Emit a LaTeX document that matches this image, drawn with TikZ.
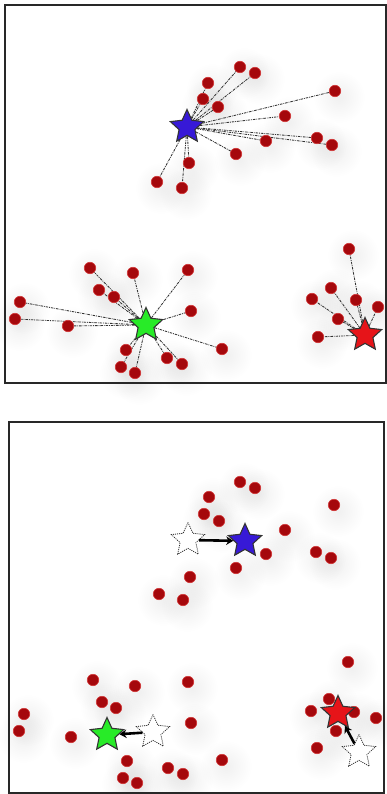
\documentclass[tikz,border=0pt]{standalone}
\usetikzlibrary{shapes.geometric,arrows.meta,fadings}
\pgfdeclarelayer{bg}
\pgfdeclarelayer{haze}
\pgfsetlayers{haze,bg,main}
\definecolor{dotred}{RGB}{165,8,12}
\definecolor{dotrim}{RGB}{210,55,55}
\definecolor{sblue}{RGB}{55,25,215}
\definecolor{sgreen}{RGB}{40,235,40}
\definecolor{sred}{RGB}{230,20,25}
\definecolor{framec}{RGB}{40,40,40}
\tikzfading[name=softglow, inner color=transparent!0, outer color=transparent!100]
\tikzset{
  dotnode/.style={circle,fill=dotred,draw=dotrim,line width=0.6pt,minimum size=11.5pt,inner sep=0pt},
  starnode/.style={star,star points=5,star point ratio=2.1,minimum size=35pt,inner sep=0pt,draw=black!80,line width=1.1pt},
  oldstar/.style={starnode,fill=white,draw=black!80,densely dotted,line width=0.8pt},
  link/.style={draw=black!80,line width=0.85pt,dash pattern=on 2.5pt off 1pt on 0.8pt off 1pt},
  move/.style={draw=black,line width=2.6pt,-{Stealth[length=7pt,width=8.5pt]}},
  panel/.style={draw=framec,line width=2pt},
  hazec/.style={fill=black,opacity=0.06,path fading=softglow}
}
\begin{document}
\begin{tikzpicture}[x=1pt,y=-1pt]
\useasboundingbox (0,0) rectangle (386,794);
% panels
\draw[panel] (5,5) rectangle (386,383);
\draw[panel] (9,422) rectangle (384,793);

% ---------- top panel ----------
\node[starnode,fill=sblue] (TB) at (187,127) {};
\node[starnode,fill=sgreen] (TG) at (146,325) {};
\node[starnode,fill=sred] (TR) at (365,335) {};

\foreach \x/\y [count=\i] in {240/67,255/73,208/83,203/99,218/107,335/91,285/116,317/138,332/145,266/141,236/154,189/163,157/182,182/188}{
  \node[dotnode] (tb\i) at (\x,\y) {};
  \begin{pgfonlayer}{bg}\draw[link] (TB) -- (tb\i);\end{pgfonlayer}
  \begin{pgfonlayer}{haze}\fill[hazec] (\x+4,\y+6) circle (26);\end{pgfonlayer}
}
\foreach \x/\y [count=\i] in {90/268,133/273,188/270,99/290,114/297,20/302,15/319,68/326,191/311,126/350,121/367,135/373,167/358,182/364,222/349}{
  \node[dotnode] (tg\i) at (\x,\y) {};
  \begin{pgfonlayer}{bg}\draw[link] (TG) -- (tg\i);\end{pgfonlayer}
  \begin{pgfonlayer}{haze}\fill[hazec] (\x+4,\y+6) circle (26);\end{pgfonlayer}
}
\foreach \x/\y [count=\i] in {349/249,331/288,312/299,356/300,378/307,338/319,318/337}{
  \node[dotnode] (tr\i) at (\x,\y) {};
  \begin{pgfonlayer}{bg}\draw[link] (TR) -- (tr\i);\end{pgfonlayer}
  \begin{pgfonlayer}{haze}\fill[hazec] (\x+4,\y+6) circle (26);\end{pgfonlayer}
}

% ---------- bottom panel ----------
\foreach \x/\y [count=\i] in {240/482,255/488,209/497,204/514,219/521,334/505,285/530,266/554,316/552,331/558,236/568,190/577,159/594,183/600,
  348/662,93/680,135/686,188/682,102/702,116/708,24/714,19/731,71/737,191/723,127/761,123/778,137/783,168/768,183/774,222/760,
  329/699,311/711,354/712,376/718,336/731,317/748}{
  \node[dotnode] (b\i) at (\x,\y) {};
  \begin{pgfonlayer}{haze}\fill[hazec] (\x+4,\y+6) circle (26);\end{pgfonlayer}
}
\node[oldstar] (OB) at (188,540) {};
\node[starnode,fill=sblue] (BB) at (245,541) {};
\node[oldstar] (OG) at (153,732) {};
\node[starnode,fill=sgreen] (BG) at (107,735) {};
\node[oldstar] (OR) at (359,752) {};
\node[starnode,fill=sred] (BR) at (338,713) {};
\draw[move] (OB) -- (BB);
\draw[move] (OG) -- (BG);
\draw[move] (OR) -- (BR);
\end{tikzpicture}
\end{document}
